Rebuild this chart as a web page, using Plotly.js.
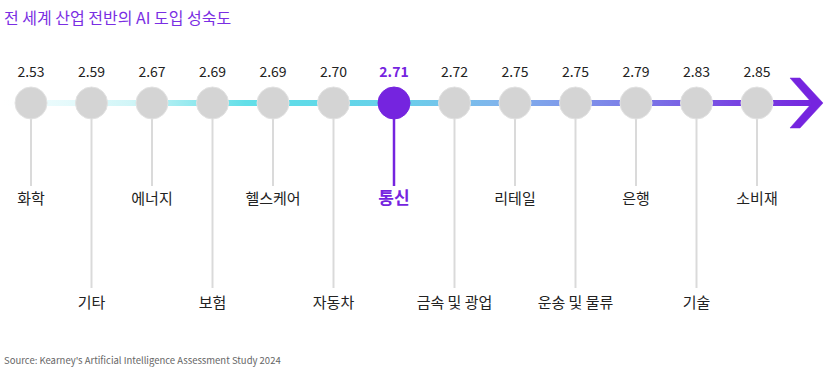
<!DOCTYPE html>
<html><head><meta charset="utf-8">
<script src="https://cdn.plot.ly/plotly-3.0.1.min.js"></script>
<style>html,body{margin:0;padding:0;background:#fff;}#chart{width:826px;height:373px;}</style>
</head><body><div id="chart"></div>
<script>
// ---- data ----
const categories = ['화학','기타','에너지','보험','헬스케어','자동차','통신','금속 및 광업','리테일','운송 및 물류','은행','기술','소비재'];
const values = [2.53,2.59,2.67,2.69,2.69,2.70,2.71,2.72,2.75,2.75,2.79,2.83,2.85];
const highlightCategory = '통신';
const titleText = '전 세계 산업 전반의 AI 도입 성숙도';
const sourceText = "Source: Kearney's Artificial Intelligence Assessment Study 2024";

// ---- layout constants (pixels) ----
const W = 826, H = 373;
const firstX = 31, stepX = 60.5;
const lineY = 103, circleR = 16;
const valueY = 73, shortEnd = 186, longEnd = 288, shortLabelY = 200, longLabelY = 304;
const purple = '#7524df', gray = '#d4d4d4', stemGray = '#dadada';
const font = '"Noto Sans CJK KR", "Noto Sans", sans-serif';

const n = categories.length;
const xmin = -firstX / stepX;
const xmax = xmin + W / stepX;
const idx = categories.map((c, i) => i);
const hi = categories.indexOf(highlightCategory);

const traces = [];

// gradient line
const lineEnd = n - 1 + (820 - (firstX + stepX * (n - 1))) / stepX;
traces.push({
  type: 'scatter', mode: 'none', hoverinfo: 'skip', showlegend: false,
  x: [xmin, lineEnd, lineEnd, xmin, xmin],
  y: [lineY - 3, lineY - 3, lineY + 3, lineY + 3, lineY - 3],
  fill: 'toself',
  fillgradient: {type: 'horizontal', colorscale: [
    [0, 'rgba(255,255,255,0)'], [0.06, 'rgba(225,249,251,0.7)'], [0.16, '#d0f5f7'],
    [0.24, '#8fe8ee'], [0.3, '#62dfe8'], [0.4, '#5fd8e8'], [0.5, '#6ccdea'], [0.6, '#7fb6ec'],
    [0.7, '#7f96ea'], [0.8, '#7a70e6'], [0.9, '#7843e2'], [1, purple]
  ]}
});

// arrow chevron
const tipX = n - 1 + (823 - (firstX + stepX * (n - 1))) / stepX;
const d = v => v / stepX;
traces.push({
  type: 'scatter', mode: 'lines', hoverinfo: 'skip', showlegend: false,
  x: [tipX - d(33), tipX - d(23), tipX, tipX - d(23), tipX - d(33), tipX - d(11), tipX - d(33)],
  y: [lineY - 25, lineY - 25, lineY, lineY + 25, lineY + 25, lineY, lineY - 25],
  fill: 'toself', fillcolor: purple, line: {color: purple, width: 0.5}
});

// stems
idx.forEach(i => {
  const end = i % 2 === 0 ? shortEnd : longEnd;
  const isHi = i === hi;
  traces.push({
    type: 'scatter', mode: 'lines', hoverinfo: 'skip', showlegend: false,
    x: [i, i], y: [lineY + circleR, end],
    line: {color: isHi ? purple : stemGray, width: isHi ? 2.5 : 2}
  });
});

// circles
traces.push({
  type: 'scatter', mode: 'markers', hoverinfo: 'skip', showlegend: false,
  x: idx, y: idx.map(() => lineY),
  marker: {size: circleR * 2, color: idx.map(i => i === hi ? purple : gray),
           line: {color: idx.map(i => i === hi ? purple : '#e2e2e2'), width: 1}}
});

// value labels
traces.push({
  type: 'scatter', mode: 'text', hoverinfo: 'skip', showlegend: false,
  x: idx, y: idx.map(() => valueY),
  text: values.map((v, i) => i === hi ? '<b>' + v.toFixed(2) + '</b>' : v.toFixed(2)),
  textposition: 'middle center',
  textfont: {family: font, size: 14, color: idx.map(i => i === hi ? purple : '#222')}
});

// category labels
traces.push({
  type: 'scatter', mode: 'text', hoverinfo: 'skip', showlegend: false,
  x: idx, y: idx.map(i => i % 2 === 0 ? shortLabelY : longLabelY),
  text: categories.map((c, i) => i === hi ? '<b>' + c + '</b>' : c),
  textposition: 'middle center',
  textfont: {family: font, size: idx.map(i => i === hi ? 17 : 15), color: idx.map(i => i === hi ? purple : '#222')}
});

const layout = {
  width: W, height: H, margin: {l: 0, r: 0, t: 0, b: 0},
  paper_bgcolor: '#fff', plot_bgcolor: '#fff', showlegend: false,
  xaxis: {range: [xmin, xmax], visible: false, fixedrange: true},
  yaxis: {range: [H, 0], visible: false, fixedrange: true},
  annotations: [
    {text: titleText, xref: 'paper', yref: 'paper', x: 0.003, y: 1 - 17 / H, xanchor: 'left', yanchor: 'middle',
     showarrow: false, font: {family: font, size: 16, color: '#7a2ee3'}},
    {text: sourceText, xref: 'paper', yref: 'paper', x: 0.003, y: 1 - 360 / H, xanchor: 'left', yanchor: 'middle',
     showarrow: false, font: {family: font, size: 9.5, color: '#666'}}
  ]
};

Plotly.newPlot('chart', traces, layout, {staticPlot: true, displayModeBar: false});
</script></body></html>
